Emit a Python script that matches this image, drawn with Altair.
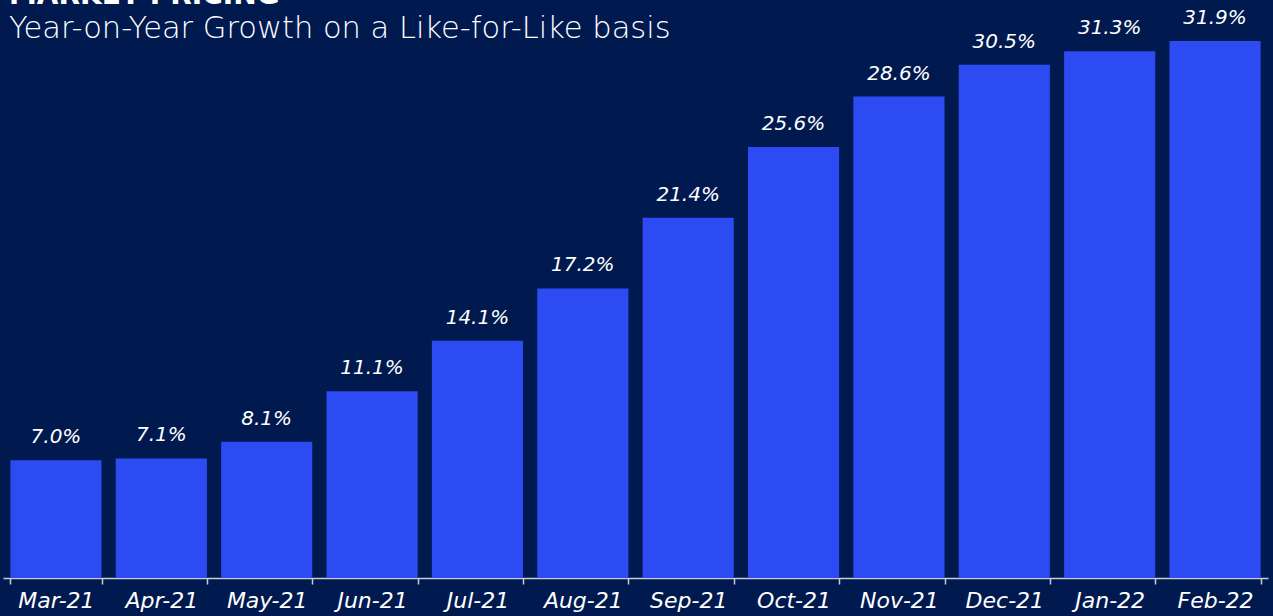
import altair as alt
import pandas as pd

months = ["Mar-21", "Apr-21", "May-21", "Jun-21", "Jul-21", "Aug-21",
          "Sep-21", "Oct-21", "Nov-21", "Dec-21", "Jan-22", "Feb-22"]
growth = [7.0, 7.1, 8.1, 11.1, 14.1, 17.2, 21.4, 25.6, 28.6, 30.5, 31.3, 31.9]

df = pd.DataFrame({"month": months, "growth": growth})

BG = "#001A4F"
BAR = "#2C4BF2"
FONT = "DejaVu Sans"

x = alt.X("month:N", sort=months,
          scale=alt.Scale(paddingInner=0.135, paddingOuter=0.07),
          axis=alt.Axis(title=None, labelAngle=0, labelColor="white",
                        labelFont=FONT, labelFontSize=22, labelFontStyle="italic",
                        labelPadding=6, domainColor="#C9CCD6", domainWidth=1.5,
                        tickColor="#C9CCD6", tickWidth=1.5, tickSize=6,
                        tickBand="extent"))
y = alt.Y("growth:Q", scale=alt.Scale(domain=[0, 34.34], nice=False, zero=True),
          axis=None)

bars = alt.Chart(df).mark_bar(color=BAR).encode(x=x, y=y)
labels = alt.Chart(df).transform_calculate(
    label="format(datum.growth, '.1f') + '%'"
).mark_text(color="white", font=FONT, fontSize=20, fontStyle="italic",
            baseline="bottom", dy=-13).encode(x=x, y=y, text="label:N")

chart = alt.layer(bars, labels).properties(
    width=1265, height=578,
    background=BG,
    padding={"left": 3, "top": 0, "right": 5, "bottom": 38},
    autosize=alt.AutoSizeParams(type="none"),
    title=alt.TitleParams(
        "MARKET PRICING",
        subtitle="Year-on-Year Growth on a Like-for-Like basis",
        anchor="start", orient="top", offset=-44, dx=6,
        font=FONT, fontSize=28, fontWeight="bold", color="white",
        subtitleFont=FONT, subtitleFontSize=30.5, subtitleFontWeight=300,
        subtitleColor="white", subtitlePadding=4,
    ),
).configure_view(stroke=None)

chart.save("out.html", embed_options={"renderer": "svg", "actions": False})
